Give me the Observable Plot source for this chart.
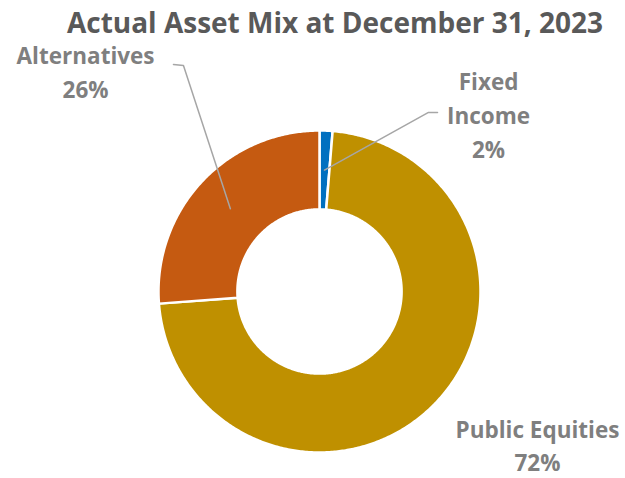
<!DOCTYPE html>
<html><head><meta charset="utf-8">
<script src="https://cdn.jsdelivr.net/npm/d3@7"></script>
<script src="https://cdn.jsdelivr.net/npm/@observablehq/plot@0.6"></script>
<style>html,body{margin:0;padding:0;background:#fff}svg{display:block}</style>
</head><body><div id="chart"></div>
<script>
// ---- data ----
const categories = ["Fixed Income", "Public Equities", "Alternatives"];
const values = [1.3, 72.5, 26.2];
const labelTexts = ["Fixed\nIncome\n2%", "Public Equities\n72%", "Alternatives\n26%"];
const colors = ["#0070C0", "#BF9000", "#C55A11"];
const title = "Actual Asset Mix at December 31, 2023";

// ---- layout ----
const W = 625, H = 478, cx = 319, cy = 291, R = 161, hole = 0.51;
// label positions / leader-line elbows in units of the outer radius, relative to centre
const labelLayout = [
  {x: 1.05, y: 1.106, elbow: [[0.733, 1.112], [0.677, 1.112]]},
  {x: 1.354, y: -0.945, elbow: null},
  {x: -1.453, y: 1.375, elbow: [[-0.907, 1.41], [-0.845, 1.404]]}
];

const data = categories.map((name, i) => ({name, value: values[i], label: labelTexts[i]}));
const pie = d3.pie().sort(null).value(d => d.value)(data);

const arcPts = pie.flatMap(p => {
  const n = Math.max(2, Math.ceil((p.endAngle - p.startAngle) / 0.01));
  const pts = [];
  for (let i = 0; i <= n; i++) {
    const a = p.startAngle + (p.endAngle - p.startAngle) * i / n;
    pts.push({name: p.data.name, x: Math.sin(a), y: Math.cos(a)});
  }
  for (let i = n; i >= 0; i--) {
    const a = p.startAngle + (p.endAngle - p.startAngle) * i / n;
    pts.push({name: p.data.name, x: hole * Math.sin(a), y: hole * Math.cos(a)});
  }
  pts.push(pts[0]);
  return pts;
});

const labelData = pie.map((p, i) => ({text: p.data.label, x: labelLayout[i].x, y: labelLayout[i].y}));
const leaderPts = pie.flatMap((p, i) => {
  const L = labelLayout[i];
  if (!L.elbow) return [];
  const mid = (p.startAngle + p.endAngle) / 2, r = (1 + hole) / 2;
  return [
    ...L.elbow.map(([x, y]) => ({name: p.data.name, x, y})),
    {name: p.data.name, x: r * Math.sin(mid), y: r * Math.cos(mid)}
  ];
});

const chart = Plot.plot({
  width: W, height: H,
  margin: 0,
  x: {domain: [-cx / R, (W - cx) / R], range: [0, W], axis: null},
  y: {domain: [-(H - cy) / R, cy / R], range: [H, 0], axis: null},
  color: {domain: categories, range: colors},
  style: {background: "#fff"},
  marks: [
    Plot.line(arcPts, {x: "x", y: "y", z: "name", fill: "name", stroke: "white", strokeWidth: 2.5, curve: "linear"}),
    Plot.line(leaderPts, {x: "x", y: "y", z: "name", stroke: "#A6A6A6", strokeWidth: 1.5, curve: "linear"}),
    Plot.text(labelData, {x: "x", y: "y", text: "text", fill: "#7F7F7F", fontFamily: "Open Sans", fontWeight: "bold", fontSize: 22.5, lineHeight: 1.5, textAnchor: "middle"}),
    Plot.text([title], {frameAnchor: "top", dx: 22, dy: 24, text: d => d, fill: "#595959", fontFamily: "Open Sans", fontWeight: "bold", fontSize: 28, lineAnchor: "middle"})
  ]
});
document.getElementById("chart").appendChild(chart);
</script>
</body></html>
